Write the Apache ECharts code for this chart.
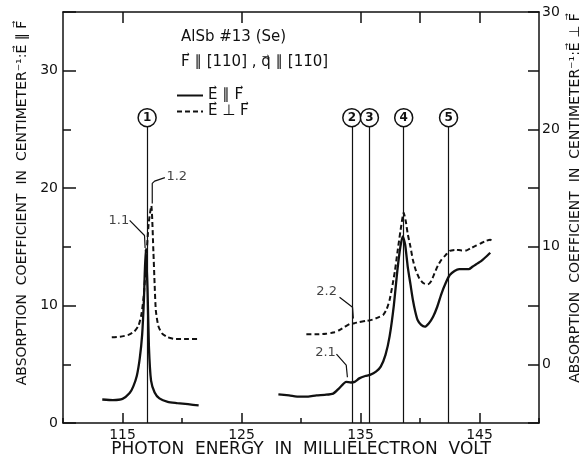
<!DOCTYPE html>
<html><head><meta charset="utf-8">
<script src="https://cdn.jsdelivr.net/npm/echarts@6/dist/echarts.min.js"></script>
<style>html,body{margin:0;padding:0;background:#fff}#c{width:584px;height:466px}</style>
</head><body><div id="c"></div>
<script>
// ---- data (photon energy meV, absorption cm^-1) ----
const solidX1 = [113.3, 114.2, 115.0, 115.6, 115.9, 116.2, 116.45, 116.65, 116.8, 116.95, 117.1, 117.22, 117.4, 117.7, 118.1, 118.8, 119.6, 120.5, 121.4];
const solidY1 = [2.0, 1.95, 2.05, 2.55, 3.1, 4.0, 5.5, 7.5, 10.5, 14.8, 11.5, 6.5, 3.6, 2.6, 2.1, 1.8, 1.7, 1.6, 1.5];
const solidX2 = [128.1, 129.0, 129.9, 130.6, 131.3, 132.0, 132.7, 133.2, 133.8, 134.2, 134.5, 134.9, 135.4, 135.8, 136.3, 136.7, 137.1, 137.45, 137.8, 138.1, 138.35, 138.55, 138.75, 138.97, 139.2, 139.4, 139.6, 139.8, 140.1, 140.4, 140.75, 141.1, 141.45, 141.8, 142.15, 142.5, 142.9, 143.3, 143.7, 144.1, 144.4, 144.7, 145.0, 145.26, 145.6, 145.9];
const solidY2 = [2.44, 2.35, 2.24, 2.25, 2.35, 2.4, 2.5, 2.95, 3.5, 3.45, 3.5, 3.8, 4.0, 4.1, 4.37, 4.8, 5.8, 7.4, 10.0, 13.0, 15.0, 15.9, 15.2, 13.3, 11.8, 10.5, 9.5, 8.77, 8.35, 8.2, 8.5, 9.05, 9.9, 11.0, 11.9, 12.6, 12.95, 13.1, 13.1, 13.1, 13.3, 13.5, 13.7, 13.9, 14.2, 14.5];
// dashed curve, right-axis units
const dashX1 = [114.1, 114.8, 115.5, 116.0, 116.35, 116.6, 116.8, 117.0, 117.2, 117.42, 117.6, 117.7, 117.8, 118.0, 118.3, 118.8, 119.5, 120.4, 121.4];
const dashY1 = [2.3, 2.35, 2.5, 2.8, 3.3, 4.3, 6.0, 9.0, 12.0, 13.5, 9.5, 6.8, 4.6, 3.3, 2.65, 2.3, 2.15, 2.15, 2.15];
const dashX2 = [130.45, 131.2, 132.1, 132.7, 133.2, 133.7, 134.1, 134.5, 134.9, 135.5, 136.0, 136.5, 136.9, 137.2, 137.45, 137.7, 137.9, 138.1, 138.35, 138.63, 138.8, 138.97, 139.2, 139.4, 139.65, 139.95, 140.3, 140.65, 140.95, 141.2, 141.5, 141.8, 142.15, 142.5, 143.0, 143.5, 143.9, 144.3, 144.7, 145.1, 145.5, 145.9, 146.2];
const dashY2 = [2.55, 2.55, 2.6, 2.7, 2.9, 3.2, 3.43, 3.5, 3.6, 3.7, 3.8, 4.0, 4.2, 4.7, 5.5, 6.8, 8.0, 9.5, 11.3, 12.9, 12.2, 11.1, 10.0, 8.9, 8.0, 7.3, 6.9, 6.8, 7.1, 7.7, 8.4, 8.9, 9.3, 9.66, 9.75, 9.7, 9.7, 9.9, 10.1, 10.3, 10.5, 10.6, 10.4];
// transition markers
const markerX = [117.07, 134.27, 135.75, 138.63, 142.4];
const markerLabels = ['1', '2', '3', '4', '5'];
const markerTop = 25.2;
const markerCircleY = 26.0;
// annotations
const annotNames = ['1.1', '1.2', '2.2', '2.1'];
const annotX = [114.7, 119.56, 132.15, 132.06];
const annotY = [17.25, 21.0, 11.2, 6.03];
const leaderX = [[115.6, 116.85, 116.9], [118.56, 117.7, 117.5, 117.5], [133.24, 134.33, 134.4], [132.98, 133.8, 133.9]];
const leaderY = [[17.25, 15.97, 14.9], [20.9, 20.6, 20.4, 18.7], [10.7, 9.86, 8.9], [5.86, 4.93, 3.9]];
// axes
const xLabels = [115, 125, 135, 145];
const xTopTicks = [115, 125, 135, 140, 145];
const yLeftLabels = [0, 10, 20, 30];
const yRightLabels = [0, 10, 20, 30];

const ARW = '\u20D7';
const nameSolid = 'E' + ARW + ' \u2225 F' + ARW;
const nameDash = 'E' + ARW + ' \u22A5 F' + ARW;
const FONT = 'DejaVu Sans';
const INK = '#111';

function pairs(xs, ys) { return xs.map((x, i) => [x, ys[i]]); }

const chart = echarts.init(document.getElementById('c'));
const axisLineStyle = { color: INK, width: 1.5 };
const tickStyle = { color: INK, width: 1.5 };
const SM = 0.2;
const series = [
  { name: nameSolid, type: 'line', xAxisIndex: 0, yAxisIndex: 0, data: pairs(solidX1, solidY1), symbol: 'none', smooth: SM,
    lineStyle: { color: INK, width: 2.3 }, itemStyle: { color: INK },
    markLine: { silent: true, symbol: 'none', label: { show: false }, lineStyle: { color: INK, width: 1.2, type: 'solid' },
      data: markerX.map(x => [{ coord: [x, 0] }, { coord: [x, markerTop] }]) } },
  { name: nameSolid, type: 'line', xAxisIndex: 0, yAxisIndex: 0, data: pairs(solidX2, solidY2), symbol: 'none', smooth: SM,
    lineStyle: { color: INK, width: 2.3 }, itemStyle: { color: INK } },
  { name: nameDash, type: 'line', xAxisIndex: 0, yAxisIndex: 1, data: pairs(dashX1, dashY1), symbol: 'none', smooth: SM,
    lineStyle: { color: INK, width: 2, type: [5, 3] }, itemStyle: { color: INK } },
  { name: nameDash, type: 'line', xAxisIndex: 0, yAxisIndex: 1, data: pairs(dashX2, dashY2), symbol: 'none', smooth: SM,
    lineStyle: { color: INK, width: 2, type: [5, 3] }, itemStyle: { color: INK } }
];
leaderX.forEach((xs, i) => series.push({ type: 'line', xAxisIndex: 0, yAxisIndex: 0, data: pairs(xs, leaderY[i]), symbol: 'none',
  lineStyle: { color: INK, width: 1.2 }, silent: true }));
series.push({ type: 'scatter', xAxisIndex: 0, yAxisIndex: 0, symbolSize: 0, silent: true,
  data: annotNames.map((n, i) => ({ name: n, value: [annotX[i], annotY[i]] })),
  label: { show: true, position: 'inside', formatter: p => p.name, color: INK, fontFamily: FONT, fontSize: 13 } });
series.push({ type: 'scatter', xAxisIndex: 0, yAxisIndex: 0, symbol: 'circle', symbolSize: 18, silent: true,
  itemStyle: { color: '#fff', borderColor: INK, borderWidth: 1.5, opacity: 1 },
  data: markerX.map((x, i) => ({ name: markerLabels[i], value: [x, markerCircleY] })),
  label: { show: true, position: 'inside', formatter: p => p.name, color: INK, fontFamily: FONT, fontSize: 12, fontWeight: 'bold' } });

chart.setOption({
  animation: false,
  backgroundColor: '#fff',
  textStyle: { fontFamily: FONT, color: INK },
  grid: { left: 63, right: 45, top: 12, bottom: 43 },
  title: [
    { text: 'AlSb #13 (Se)', left: 176, top: 25, textStyle: { fontFamily: FONT, fontSize: 15, fontWeight: 'normal', color: INK } },
    { text: 'F' + ARW + ' \u2225 [110] , q' + ARW + ' \u2225 [11\u03040]', left: 176, top: 50, textStyle: { fontFamily: FONT, fontSize: 15, fontWeight: 'normal', color: INK } }
  ],
  legend: { left: 171, top: 83, orient: 'vertical', itemWidth: 26, itemHeight: 12, itemGap: 1, data: [nameSolid, nameDash],
    itemStyle: { opacity: 0 },
    textStyle: { fontFamily: FONT, fontSize: 15, color: INK } },
  xAxis: [
    { type: 'value', min: 110, max: 150, interval: 10, position: 'bottom', axisLine: { onZero: false, lineStyle: axisLineStyle }, splitLine: { show: false },
      axisTick: { inside: true, length: 5, lineStyle: tickStyle },
      minorTick: { show: true, splitNumber: 2, length: 10, lineStyle: tickStyle },
      axisLabel: { customValues: xLabels, color: INK, fontFamily: FONT, fontSize: 14, margin: 5 } },
    { type: 'value', min: 110, max: 150, position: 'top', axisLine: { onZero: false, lineStyle: axisLineStyle }, splitLine: { show: false },
      axisTick: { inside: true, length: 11, customValues: xTopTicks, lineStyle: tickStyle },
      axisLabel: { show: false } }
  ],
  yAxis: [
    { type: 'value', min: 0, max: 35, interval: 10, position: 'left', axisLine: { show: true, onZero: false, lineStyle: axisLineStyle }, splitLine: { show: false },
      axisTick: { show: true, inside: true, length: 13, lineStyle: tickStyle },
      minorTick: { show: true, splitNumber: 2, length: 8, lineStyle: tickStyle },
      axisLabel: { customValues: yLeftLabels, color: INK, fontFamily: FONT, fontSize: 14, margin: 5 } },
    { type: 'value', min: -5, max: 30, interval: 5, position: 'right', axisLine: { show: true, onZero: false, lineStyle: axisLineStyle }, splitLine: { show: false },
      axisTick: { show: true, inside: true, length: 11, lineStyle: tickStyle },
      axisLabel: { customValues: yRightLabels, color: INK, fontFamily: FONT, fontSize: 14, margin: 3 } }
  ],
  graphic: [
    { type: 'text', x: 301, y: 450, style: { text: 'PHOTON  ENERGY  IN  MILLIELECTRON  VOLT', font: '17px "DejaVu Sans"', fill: INK, align: 'center', verticalAlign: 'middle' } },
    { type: 'text', x: 22, y: 203, rotation: Math.PI / 2, style: { text: 'ABSORPTION  COEFFICIENT  IN  CENTIMETER\u207B\u00B9:E' + ARW + ' \u2225 F' + ARW, font: '14px "DejaVu Sans"', fill: INK, align: 'center', verticalAlign: 'middle' } },
    { type: 'text', x: 575, y: 198, rotation: Math.PI / 2, style: { text: 'ABSORPTION  COEFFICIENT  IN  CENTIMETER\u207B\u00B9:E' + ARW + ' \u22A5 F' + ARW, font: '14px "DejaVu Sans"', fill: INK, align: 'center', verticalAlign: 'middle' } }
  ],
  series: series
});
</script></body></html>
